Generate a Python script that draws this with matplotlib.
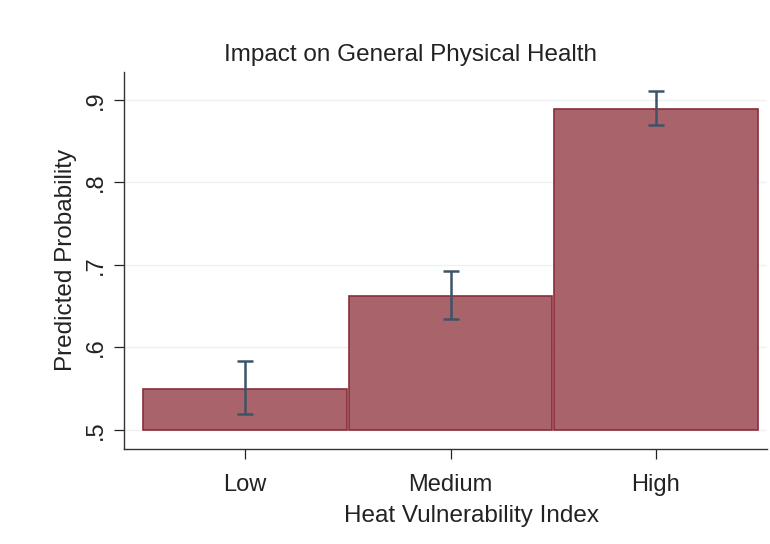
import matplotlib.pyplot as plt

# Data
categories = ["Low", "Medium", "High"]
probs = [0.5495, 0.662, 0.889]
ci_low = [0.519, 0.634, 0.869]
ci_high = [0.583, 0.692, 0.911]
yticks = [0.5, 0.6, 0.7, 0.8, 0.9]
ytick_labels = [".5", ".6", ".7", ".8", ".9"]

plt.rcParams['font.family'] = ['Liberation Sans', 'DejaVu Sans']

fig = plt.figure(figsize=(7.7, 5.44), dpi=100)
ax = fig.add_axes([0.161, 0.175, 0.835, 0.693])

x = list(range(len(categories)))
base = 0.5
heights = [p - base for p in probs]
ax.bar(x, heights, bottom=base, width=0.99, color='#a9646b',
       edgecolor='#8a2d38', linewidth=1.2, zorder=2)

# Confidence intervals
yerr = [[p - lo for p, lo in zip(probs, ci_low)],
        [hi - p for p, hi in zip(probs, ci_high)]]
ax.errorbar(x, probs, yerr=yerr, fmt='none', ecolor='#3d5468',
            elinewidth=1.8, capsize=6, capthick=1.8, zorder=3)

ax.set_ylim(0.477, 0.934)
ax.set_xlim(-0.59, 2.54)
ax.set_yticks(yticks)
ax.set_yticklabels(ytick_labels, rotation=90, va='center')
ax.set_xticks(x)
ax.set_xticklabels(categories)
ax.tick_params(axis='both', labelsize=17, colors='#222222', length=7, width=0.9)
ax.tick_params(axis='y', pad=5)
ax.tick_params(axis='x', pad=11)
ax.grid(axis='y', color='#eef1f3', linewidth=1.0, zorder=0)
ax.set_axisbelow(True)

for side in ['top', 'right']:
    ax.spines[side].set_visible(False)
for side in ['left', 'bottom']:
    ax.spines[side].set_color('#333333')
    ax.spines[side].set_linewidth(1.0)

ax.set_xlabel('Heat Vulnerability Index', fontsize=17.5, color='#222222', labelpad=6)
ax.xaxis.set_label_coords(0.541, -0.15)
ax.set_ylabel('Predicted Probability', fontsize=17.5, color='#222222', labelpad=6)
ax.set_title('Impact on General Physical Health', fontsize=17.5, color='#222222',
             x=0.446, pad=8)

fig.savefig('out.png', dpi=100, facecolor='white')
